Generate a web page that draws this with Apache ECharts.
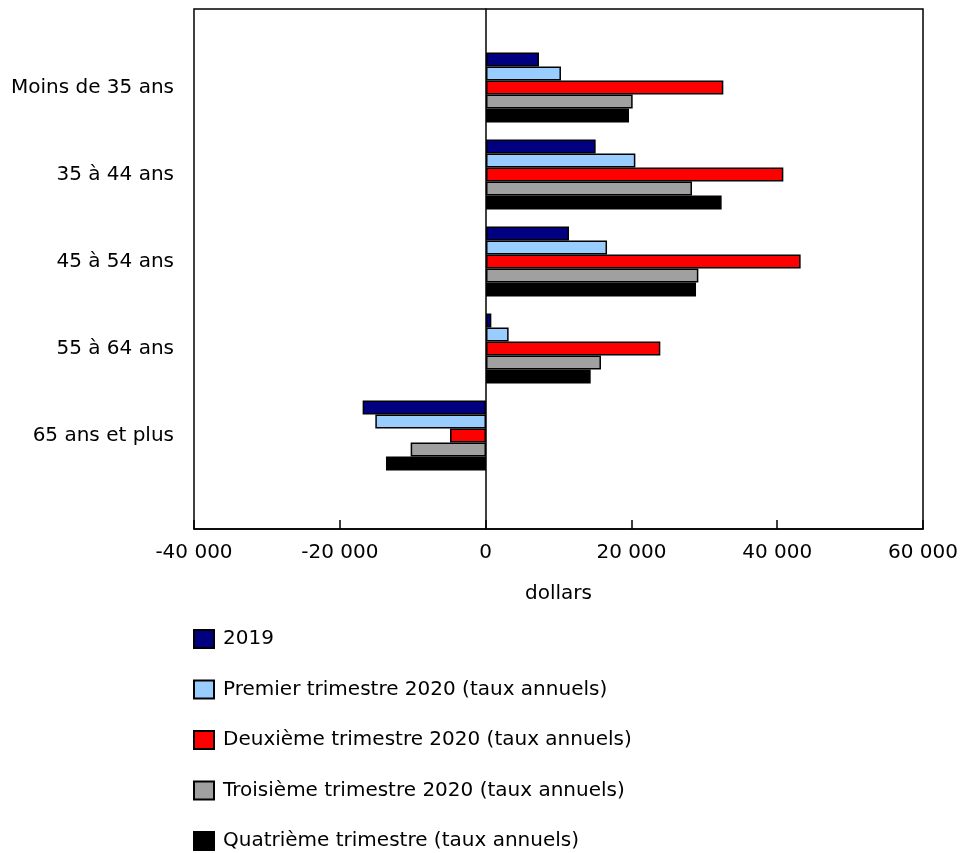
<!DOCTYPE html>
<html>
<head>
<meta charset="utf-8">
<script src="https://cdn.jsdelivr.net/npm/echarts@6/dist/echarts.min.js"></script>
<style>html,body{margin:0;padding:0;background:#fff}#c{width:961px;height:853px}</style>
</head>
<body>
<div id="c"></div>
<script>
var categories = ['Moins de 35 ans', '35 à 44 ans', '45 à 54 ans', '55 à 64 ans', '65 ans et plus'];
var seriesNames = ['2019', 'Premier trimestre 2020 (taux annuels)', 'Deuxième trimestre 2020 (taux annuels)', 'Troisième trimestre 2020 (taux annuels)', 'Quatrième trimestre (taux annuels)'];
var v2019 = [7260, 15020, 11370, 730, -16900];
var vQ1 = [10270, 20460, 16580, 3100, -15160];
var vQ2 = [32510, 40730, 43100, 23880, -4930];
var vQ3 = [20090, 28220, 29090, 15750, -10320];
var vQ4 = [19590, 32280, 28770, 14340, -13700];
var colors = ['#000080', '#99ccff', '#ff0000', '#a0a0a0', '#000000'];
var xTicks = [-40000, -20000, 0, 20000, 40000, 60000];

var font = "'DejaVu Sans', Verdana, sans-serif";
var fs = 20;
function fmt(v){ var s = Math.abs(v).toString().replace(/\B(?=(\d{3})+(?!\d))/g, ' '); return (v < 0 ? '-' : '') + s; }

var allData = [v2019, vQ1, vQ2, vQ3, vQ4];
var series = allData.map(function(d, i){
  return {
    name: seriesNames[i], type: 'bar', xAxisIndex: 1, yAxisIndex: 1,
    data: d, barWidth: 14, barGap: '0%',
    itemStyle: { color: colors[i], borderColor: '#000', borderWidth: 1.5 },
    z: 3
  };
});

var chart = echarts.init(document.getElementById('c'), null, {renderer: 'canvas'});
chart.setOption({
  animation: false,
  textStyle: { fontFamily: font },
  grid: [
    { left: 194, top: 9, width: 730, height: 520, show: true, borderColor: '#000', borderWidth: 1.5, backgroundColor: 'transparent' },
    { left: 194, top: 44, width: 730, height: 435 }
  ],
  xAxis: [
    { type: 'value', gridIndex: 0, min: xTicks[0], max: xTicks[xTicks.length-1], interval: 20000,
      name: 'dollars', nameLocation: 'middle', nameGap: 55,
      nameTextStyle: { fontSize: fs, color: '#000', fontFamily: font },
      axisLine: { show: true, onZero: false, lineStyle: { color: '#000', width: 1.5 } },
      axisTick: { show: true, inside: true, length: 9, lineStyle: { color: '#000', width: 1.5 } },
      axisLabel: { fontSize: fs, color: '#000', margin: 14, formatter: fmt, fontFamily: font },
      splitLine: { show: false } },
    { type: 'value', gridIndex: 1, min: xTicks[0], max: xTicks[xTicks.length-1], show: false }
  ],
  yAxis: [
    { type: 'value', gridIndex: 0, min: -1, max: 1,
      axisLine: { show: true, onZero: true, lineStyle: { color: '#000', width: 1.5 } },
      axisTick: { show: false }, axisLabel: { show: false }, splitLine: { show: false } },
    { type: 'category', gridIndex: 1, data: categories, inverse: true,
      axisLine: { show: false }, axisTick: { show: false },
      axisLabel: { fontSize: fs, color: '#000', margin: 20, fontFamily: font } }
  ],
  legend: {
    orient: 'vertical', left: 193, top: 629, height: 400, padding: 0,
    itemWidth: 20, itemHeight: 18, itemGap: 30.5,
    icon: 'rect', selectedMode: false,
    textStyle: { fontSize: fs, lineHeight: 18, color: '#000', fontFamily: font, padding: [0,0,0,4] },
    data: seriesNames
  },
  series: series
});
</script>
</body>
</html>
